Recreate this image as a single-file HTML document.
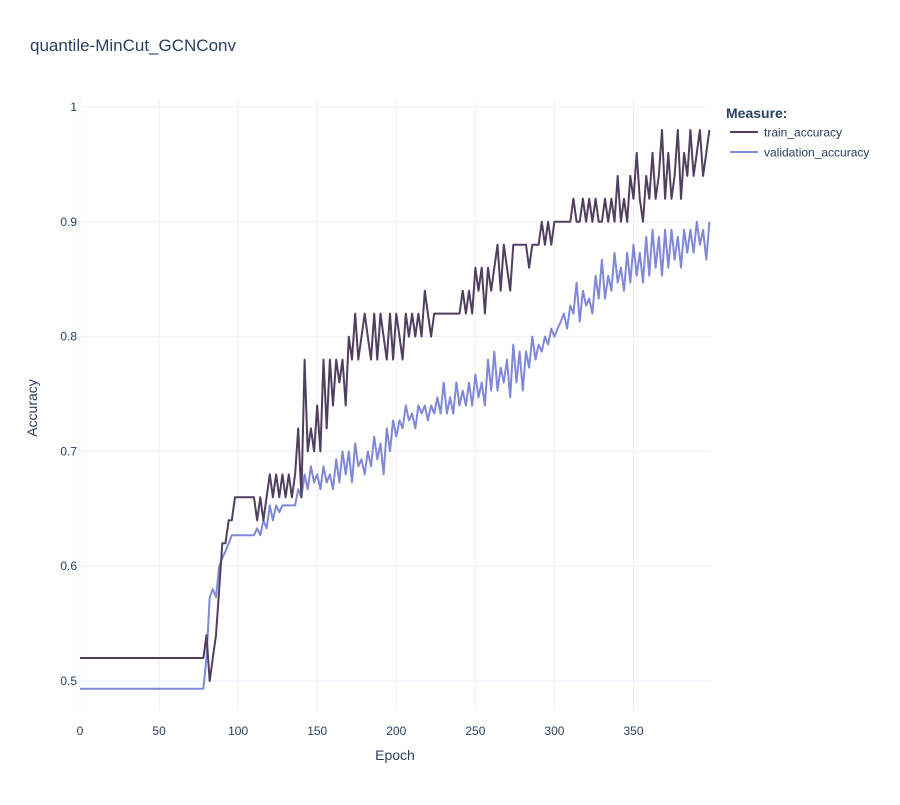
<!DOCTYPE html>
<html><head><meta charset="utf-8"><style>
body{margin:0;background:#fff;font-family:"Liberation Sans",Arial,sans-serif;}
svg text{font-family:"Liberation Sans",Arial,sans-serif;}
</style></head><body>
<svg id="chart" width="900" height="800">
<rect width="900" height="800" fill="#fff"/>
<text x="30" y="51" font-size="17" fill="#2a3f5f">quantile-MinCut_GCNConv</text>
<g id="grid"></g><g id="xt"></g><g id="yt"></g><g id="series"></g>
<text x="395" y="760" font-size="14" fill="#2a3f5f" text-anchor="middle">Epoch</text>
<text transform="translate(37,408) rotate(-90)" font-size="14" fill="#2a3f5f" text-anchor="middle">Accuracy</text>
<g>
<text x="726" y="118" font-size="14" font-weight="bold" fill="#2a3f5f">Measure:</text>
<g><line x1="730" x2="758" y1="132" y2="132" stroke="#503f60" stroke-width="2"/><text x="764" y="136.5" font-size="12" fill="#2a3f5f">train_accuracy</text></g>
<g><line x1="730" x2="758" y1="152" y2="152" stroke="#8088d8" stroke-width="2"/><text x="764" y="156.5" font-size="12" fill="#2a3f5f">validation_accuracy</text></g>
</g>
</svg>
<script>
const xTicks=[0,50,100,150,200,250,300,350];
const yTicks=[0.5,0.6,0.7,0.8,0.9,1];
const trainAcc=[
.52,.52,.52,.52,.52,.52,.52,.52,.52,.52,
.52,.52,.52,.52,.52,.52,.52,.52,.52,.52,
.52,.52,.52,.52,.52,.52,.52,.52,.52,.52,
.52,.52,.52,.52,.52,.52,.52,.52,.52,.52,
.54,.50,.52,.54,.58,.62,.62,.64,.64,.66,
.66,.66,.66,.66,.66,.66,.64,.66,.64,.66,
.68,.66,.68,.66,.68,.66,.68,.66,.68,.72,
.66,.78,.70,.72,.70,.74,.70,.78,.72,.78,
.74,.78,.76,.78,.74,.80,.78,.82,.78,.80,
.82,.80,.78,.82,.78,.82,.80,.78,.82,.78,
.82,.80,.78,.82,.80,.82,.80,.82,.80,.84,
.82,.80,.82,.82,.82,.82,.82,.82,.82,.82,
.82,.84,.82,.84,.82,.86,.84,.86,.82,.86,
.84,.86,.88,.84,.88,.86,.84,.88,.88,.88,
.88,.88,.86,.88,.88,.88,.90,.88,.90,.88,
.90,.90,.90,.90,.90,.90,.92,.90,.90,.92,
.90,.92,.90,.92,.90,.90,.92,.90,.92,.90,
.94,.90,.92,.90,.94,.92,.96,.92,.90,.94,
.92,.96,.92,.94,.98,.92,.96,.92,.94,.98,
.92,.96,.94,.98,.94,.96,.98,.94,.96,.98];
const valAcc=[
.4933,.4933,.4933,.4933,.4933,.4933,.4933,.4933,.4933,.4933,
.4933,.4933,.4933,.4933,.4933,.4933,.4933,.4933,.4933,.4933,
.4933,.4933,.4933,.4933,.4933,.4933,.4933,.4933,.4933,.4933,
.4933,.4933,.4933,.4933,.4933,.4933,.4933,.4933,.4933,.4933,
.52,.573,.58,.573,.60,.607,.613,.62,.627,.627,
.627,.627,.627,.627,.627,.627,.633,.627,.64,.633,
.653,.64,.653,.647,.653,.653,.653,.653,.653,.667,
.66,.68,.667,.687,.673,.68,.667,.687,.673,.68,
.667,.693,.673,.70,.68,.70,.673,.707,.687,.693,
.68,.70,.687,.713,.693,.707,.68,.72,.70,.727,
.713,.727,.72,.74,.727,.733,.72,.74,.733,.74,
.727,.74,.733,.747,.733,.76,.733,.747,.733,.76,
.74,.753,.74,.76,.74,.767,.747,.76,.74,.78,
.753,.787,.753,.773,.76,.78,.747,.793,.76,.787,
.753,.787,.773,.80,.78,.793,.787,.80,.793,.807,
.80,.807,.813,.82,.807,.827,.82,.847,.813,.84,
.827,.833,.82,.853,.833,.867,.833,.853,.84,.873,
.847,.86,.84,.873,.847,.88,.853,.873,.847,.887,
.853,.893,.86,.887,.853,.893,.86,.893,.867,.887,
.86,.893,.873,.893,.873,.90,.88,.893,.867,.90];
const epochs=trainAcc.map((_,i)=>i*2);
const X0=80,X1=711,Y0=100,Y1=711;
const xs=v=>X0+(v-0)/(399-0)*(X1-X0);
const ys=v=>681-(v-0.5)*1148;
const NS='http://www.w3.org/2000/svg';
function mk(t,a,p){const e=document.createElementNS(NS,t);for(const k in a)e.setAttribute(k,a[k]);p.appendChild(e);return e;}
const grid=document.getElementById('grid'),xt=document.getElementById('xt'),yt=document.getElementById('yt'),ser=document.getElementById('series');
xTicks.forEach(t=>{
 const l=mk('line',{x1:xs(t),x2:xs(t),y1:Y0,y2:Y1,stroke:'#ebf0f8','stroke-width':1},grid);
 
 
 const tx=mk('text',{x:xs(t),y:735,'font-size':12,fill:'#2a3f5f','text-anchor':'middle'},xt);tx.textContent=t;
 
 
});
yTicks.forEach(t=>{
 const l=mk('line',{x1:X0,x2:X1,y1:ys(t),y2:ys(t),stroke:'#ebf0f8','stroke-width':1},grid);
 
 
 const tx=mk('text',{x:X0-3,y:ys(t)+4,'font-size':12,fill:'#2a3f5f','text-anchor':'end'},yt);tx.textContent=(t===1?'1':t.toFixed(1));
 
 
});
function line(vals,color,name){
 const d=vals.map((v,i)=>(i?'L':'M')+xs(epochs[i]).toFixed(1)+','+ys(v).toFixed(1)).join('');
 const p=mk('path',{d:d,fill:'none',stroke:color,'stroke-width':2,'stroke-linejoin':'round'},ser);
 
 
}
line(valAcc,'#8088d8','validation-accuracy-line');
line(trainAcc,'#503f60','train-accuracy-line');
</script>
</body></html>
